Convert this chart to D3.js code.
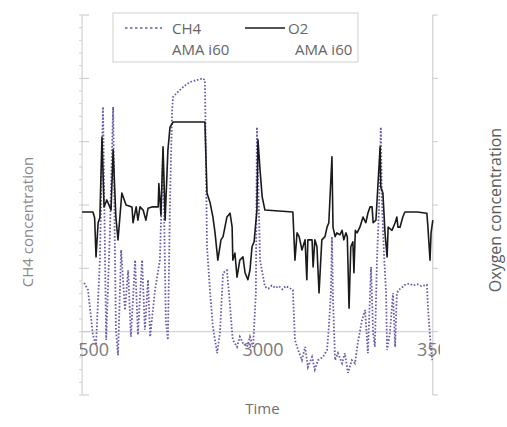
<!DOCTYPE html>
<html>
<head>
<meta charset="utf-8">
<script src="https://cdn.jsdelivr.net/npm/d3@7"></script>
<style>
  body { margin: 0; background: #fff; }
  text { font-family: "Open Sans", "Noto Sans", sans-serif; }
</style>
</head>
<body>
<div id="chart"></div>
<script>
// Series: time (s) and concentration (axis units)
const ch4Time = [2489, 2500, 2514, 2523, 2534, 2543, 2552, 2563, 2572, 2580, 2586, 2595, 2606, 2615, 2623,
  2635, 2643, 2655, 2663, 2672, 2678, 2692, 2706, 2715, 2723, 2729, 2735, 2741, 2744, 2760, 2776, 2792, 2810,
  2829, 2835, 2841, 2850, 2858, 2870, 2878, 2887, 2898, 2904, 2913, 2915, 2927, 2935, 2944, 2956, 2964, 2973,
  2981, 2984, 2993, 3007, 3017, 3027, 3037, 3047, 3057, 3067, 3077, 3087, 3093, 3102, 3113, 3122, 3130, 3142,
  3150, 3159, 3173, 3185, 3190, 3196, 3199, 3202, 3208, 3216, 3228, 3236, 3245, 3256, 3265, 3273, 3285, 3294,
  3302, 3311, 3317, 3322, 3328, 3334, 3339, 3342, 3348, 3354, 3357, 3365, 3374, 3380, 3385, 3391, 3402, 3408,
  3420, 3432, 3443, 3455, 3471, 3474, 3480, 3486];
const ch4Value = [0.77, 0.66, -0.05, -0.21, 1.13, 3.55, -0.13, 1.61, 3.55, 0.03, -0.37, 1.29, 0.34, 0.97, -0.08,
  1.13, -0.05, 1.13, 0.03, 0.82, -0.08, 0.66, 1.13, 2.87, 0.18, -0.13, 2.08, 3.50, 3.71, 3.80, 3.88, 3.94, 3.97,
  4.00, 3.97, 1.34, 0.61, 0.07, -0.34, -0.02, 0.93, 0.97, 0.61, -0.02, -0.13, -0.24, -0.08, -0.18, -0.24, -0.08, -0.24,
  0.61, 3.23, 1.13, 0.71, 0.68, 0.73, 0.69, 0.72, 0.67, 0.72, 0.69, 0.66, -0.13, -0.29, -0.45, -0.24, -0.56, -0.40,
  -0.60, -0.45, -0.40, -0.29, 0.07, 0.61, 1.50, 0.50, -0.45, -0.34, -0.50, -0.34, -0.65, -0.45, -0.50, -0.18, 0.18, 0.34,
  -0.34, 1.02, -0.02, -0.24, 1.13, 1.97, 3.23, 2.08, 1.24, 0.61, -0.29, -0.02, 0.61, -0.24, 0.61, 0.66, 0.71, 0.74,
  0.76, 0.73, 0.75, 0.72, 0.74, 0.39, -0.08, -0.45];

const o2Time = [2483, 2514, 2519, 2523, 2529, 2534, 2540, 2546, 2554, 2566, 2572, 2580, 2586, 2597, 2609, 2626,
  2629, 2638, 2643, 2649, 2658, 2666, 2672, 2683, 2701, 2703, 2709, 2715, 2721, 2729, 2735, 2744, 2835, 2841,
  2850, 2858, 2864, 2872, 2881, 2887, 2898, 2907, 2913, 2915, 2921, 2927, 2935, 2944, 2950, 2958, 2964, 2970,
  2976, 2984, 2987, 2993, 2999, 3007, 3087, 3093, 3099, 3105, 3113, 3122, 3127, 3130, 3142, 3145, 3150, 3156,
  3162, 3170, 3179, 3185, 3190, 3199, 3202, 3208, 3213, 3222, 3228, 3233, 3239, 3243, 3248, 3253, 3259, 3262,
  3266, 3271, 3279, 3288, 3296, 3302, 3308, 3314, 3317, 3325, 3331, 3337, 3339, 3345, 3351, 3357, 3360, 3371,
  3380, 3385, 3388, 3394, 3402, 3408, 3443, 3471, 3474, 3480, 3483, 3488];
const o2Value = [1.89, 1.89, 1.80, 1.18, 1.72, 1.80, 3.07, 1.97, 2.08, 1.92, 2.87, 1.80, 1.45, 2.19, 2.00, 1.97,
  1.72, 1.97, 1.76, 1.97, 1.92, 1.76, 1.95, 1.97, 1.97, 2.34, 1.84, 2.92, 1.76, 2.87, 3.23, 3.31, 3.31, 2.19,
  2.03, 1.81, 1.56, 1.13, 1.45, 1.50, 1.81, 1.87, 1.65, 1.13, 1.24, 0.86, 1.13, 1.18, 0.93, 0.82, 0.97, 1.34,
  1.42, 1.92, 3.03, 2.55, 2.13, 1.92, 1.89, 1.13, 1.56, 1.50, 1.29, 1.45, 0.82, 1.45, 1.45, 1.02, 1.45, 1.34,
  0.61, 1.45, 1.50, 1.65, 1.72, 2.76, 1.65, 1.50, 1.56, 1.53, 1.60, 1.45, 1.56, 1.50, 0.37, 1.34, 1.42, 0.93,
  1.60, 1.56, 1.65, 1.81, 1.72, 1.87, 1.97, 1.97, 1.72, 1.76, 2.34, 2.92, 2.28, 2.19, 1.56, 1.18, 1.65, 1.60,
  1.72, 1.81, 1.65, 1.65, 1.81, 1.89, 1.89, 1.87, 1.65, 1.13, 1.56, 1.76];

const xTicks = [2500, 3000, 3500];
const legendNames = ["CH4", "O2"];
const legendSub = "AMA i60";

const width = 507, height = 427;
const svg = d3.select("#chart").append("svg")
  .attr("width", width)
  .attr("height", height);

const x = d3.scaleLinear().domain([2500, 3500]).range([88, 437]);
const yLeft = d3.scaleLinear().domain([-1, 5]).range([395, 15]);
const yRight = d3.scaleLinear().domain([-1, 5]).range([395, 15]);

const xLeft = x(2483), xRightEdge = x(3488);

// zero gridline
svg.append("line")
  .attr("x1", xLeft).attr("x2", xRightEdge)
  .attr("y1", yLeft(0)).attr("y2", yLeft(0))
  .attr("stroke", "#d4d4d4").attr("stroke-width", 1.2);

// left axis with minor ticks
svg.append("line")
  .attr("x1", xLeft).attr("x2", xLeft)
  .attr("y1", yLeft(-1)).attr("y2", yLeft(5))
  .attr("stroke", "#c8c8c8");
svg.selectAll(".minL")
  .data(d3.range(-1, 5.01, 0.2))
  .enter().append("line")
  .attr("x1", xLeft - 3).attr("x2", xLeft)
  .attr("y1", d => yLeft(d)).attr("y2", d => yLeft(d))
  .attr("stroke", "#d0d0d0");
svg.selectAll(".majL")
  .data(d3.range(-1, 6))
  .enter().append("line")
  .attr("x1", xLeft).attr("x2", xLeft + 7)
  .attr("y1", d => yLeft(d)).attr("y2", d => yLeft(d))
  .attr("stroke", "#c8c8c8");

// right axis
svg.append("line")
  .attr("x1", xRightEdge).attr("x2", xRightEdge)
  .attr("y1", yRight(-1)).attr("y2", yRight(5))
  .attr("stroke", "#c8c8c8");
svg.selectAll(".majR")
  .data(d3.range(-1, 6))
  .enter().append("line")
  .attr("x1", xRightEdge).attr("x2", xRightEdge + 5)
  .attr("y1", d => yRight(d)).attr("y2", d => yRight(d))
  .attr("stroke", "#c8c8c8");

// series
const ch4Line = d3.line()
  .x((d, i) => x(ch4Time[i]))
  .y(d => yLeft(d));
const o2Line = d3.line()
  .x((d, i) => x(o2Time[i]))
  .y(d => yRight(d));

svg.append("path")
  .datum(ch4Value)
  .attr("d", ch4Line)
  .attr("fill", "none")
  .attr("stroke", "#6c5aa8")
  .attr("stroke-width", 1.8)
  .attr("stroke-dasharray", "1.6,1.8");

svg.append("path")
  .datum(o2Value)
  .attr("d", o2Line)
  .attr("fill", "none")
  .attr("stroke", "#1a1a1a")
  .attr("stroke-width", 1.6)
  .attr("stroke-linejoin", "round");

// x axis labels, partly hidden at both ends like the original
svg.append("clipPath").attr("id", "xclip")
  .append("rect").attr("x", 80).attr("y", 335).attr("width", 360).attr("height", 45);

const xAxis = svg.append("g")
  .attr("clip-path", "url(#xclip)")
  .append("g")
  .attr("transform", `translate(0,${yLeft(0)})`)
  .call(d3.axisBottom(x).tickValues(xTicks).tickSize(0).tickPadding(12).tickFormat(d3.format("d")));
xAxis.select(".domain").remove();
xAxis.selectAll("text")
  .attr("fill", "#7a7a7a")
  .style("font-size", "18px");

// axis titles
svg.append("text")
  .attr("x", x(3000)).attr("y", 414)
  .attr("text-anchor", "middle")
  .attr("fill", "#707070")
  .style("font-size", "15px")
  .text("Time");

svg.append("text")
  .attr("transform", "translate(33,222) rotate(-90)")
  .attr("text-anchor", "middle")
  .attr("fill", "#8a8a8a")
  .style("font-size", "15px")
  .text("CH4 concentration");

svg.append("text")
  .attr("transform", "translate(501,210) rotate(-90)")
  .attr("text-anchor", "middle")
  .attr("fill", "#5a5a5a")
  .style("font-size", "16px")
  .text("Oxygen concentration");

// legend
const legend = svg.append("g");
legend.append("rect")
  .attr("x", 113).attr("y", 13)
  .attr("width", 245).attr("height", 49)
  .attr("fill", "#fff")
  .attr("stroke", "#cfcfcf");

const items = legend.selectAll(".item")
  .data(legendNames)
  .enter().append("g")
  .attr("transform", (d, i) => `translate(${i === 0 ? 125 : 245},0)`);

items.append("line")
  .attr("x1", 0).attr("x2", (d, i) => i === 0 ? 37 : 40)
  .attr("y1", 28).attr("y2", 28)
  .attr("stroke", (d, i) => i === 0 ? "#6c5aa8" : "#1a1a1a")
  .attr("stroke-width", 1.6)
  .attr("stroke-dasharray", (d, i) => i === 0 ? "2.5,2.5" : null);

items.append("text")
  .attr("x", (d, i) => i === 0 ? 47 : 43)
  .attr("y", 34)
  .attr("fill", "#666")
  .style("font-size", "15px")
  .text(d => d);

items.append("text")
  .attr("x", (d, i) => i === 0 ? 47 : 50)
  .attr("y", 55)
  .attr("fill", "#666")
  .style("font-size", "15px")
  .text(legendSub);
</script>
</body>
</html>
